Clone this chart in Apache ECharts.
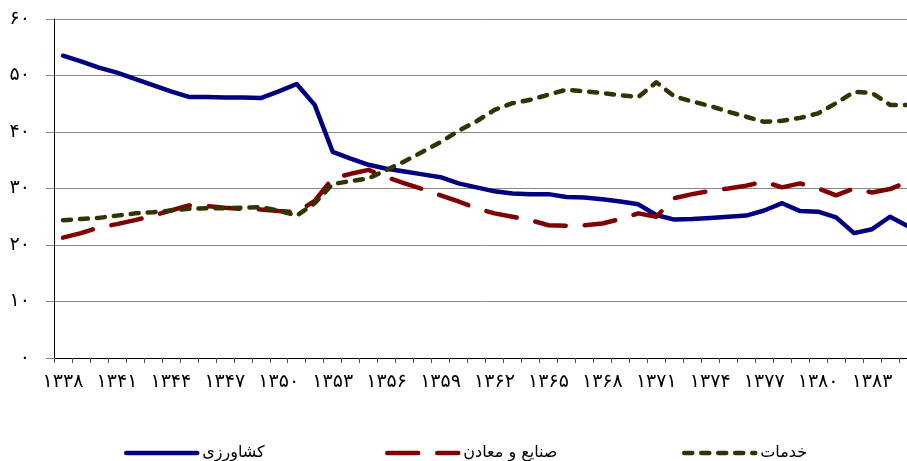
<!DOCTYPE html>
<html>
<head>
<meta charset="utf-8">
<script src="https://cdn.jsdelivr.net/npm/echarts@6/dist/echarts.min.js"></script>
<style>
html,body{margin:0;padding:0;overflow:hidden;background:#fff;width:907px;height:461px;}
#c{width:930px;height:461px;}
</style>
</head>
<body>
<div id="c"></div>
<script>
var years = [1338,1339,1340,1341,1342,1343,1344,1345,1346,1347,1348,1349,1350,1351,1352,1353,1354,1355,1356,1357,1358,1359,1360,1361,1362,1363,1364,1365,1366,1367,1368,1369,1370,1371,1372,1373,1374,1375,1376,1377,1378,1379,1380,1381,1382,1383,1384,1385];
var agriculture = [53.5,52.5,51.4,50.5,49.4,48.3,47.2,46.2,46.2,46.1,46.1,46.0,47.2,48.5,44.8,36.5,35.3,34.2,33.5,33.0,32.5,32.0,30.9,30.2,29.5,29.1,29.0,29.0,28.5,28.4,28.1,27.7,27.2,25.3,24.5,24.6,24.8,25.0,25.2,26.1,27.4,26.0,25.9,24.9,22.1,22.8,25.0,23.3];
var industry = [21.3,22.1,23.1,23.7,24.4,25.2,26.1,27.0,26.9,26.6,26.4,26.3,26.0,25.8,27.8,31.8,32.6,33.3,32.0,30.9,29.9,28.8,27.7,26.5,25.6,25.0,24.4,23.5,23.4,23.5,23.8,24.6,25.6,25.0,28.3,29.0,29.6,30.0,30.5,31.2,30.2,30.9,30.0,28.8,30.0,29.3,29.9,31.2];
var services = [24.4,24.6,24.8,25.2,25.6,25.8,26.1,26.4,26.5,26.5,26.6,26.7,26.1,25.2,27.4,30.8,31.3,31.8,33.3,34.8,36.5,38.2,40.2,41.9,43.9,45.1,45.7,46.6,47.5,47.2,46.9,46.5,46.2,48.8,46.3,45.4,44.6,43.6,42.7,41.8,42.0,42.5,43.3,45.1,47.1,46.9,44.8,44.8];
var seriesNames = ['کشاورزی','صنایع و معادن','خدمات'];
var yTicks = [0,10,20,30,40,50,60];

var faDigits = '۰۱۲۳۴۵۶۷۸۹';
function fa(n){ return String(n).replace(/[0-9]/g, function(d){ return faDigits[+d]; }); }

var FONT = "'DejaVu Sans', sans-serif";
var chart = echarts.init(document.getElementById('c'), null, {renderer:'canvas'});
function legendAt(name, left){
  return {
    data:[name], left:left, top:440, itemWidth:71, itemHeight:14, padding:5,
    itemStyle:{opacity:0, borderWidth:0},
    lineStyle:{width:4.5},
    textStyle:{fontFamily:FONT, fontSize:16, color:'#000'}
  };
}
chart.setOption({
  animation:false,
  backgroundColor:'#fff',
  grid:{left:54, top:19, width:863, height:339, containLabel:false},
  legend:[legendAt(seriesNames[0],119), legendAt(seriesNames[1],380), legendAt(seriesNames[2],677)],
  xAxis:{
    type:'category', data:years, boundaryGap:true,
    axisLine:{lineStyle:{color:'#000', width:1}},
    axisTick:{show:true, interval:0, length:5, lineStyle:{color:'#555'}},
    axisLabel:{interval:2, margin:15, fontFamily:FONT, fontSize:19, color:'#000',
      formatter:function(v){ return fa(v); }},
    splitLine:{show:false}
  },
  yAxis:{
    type:'value', min:yTicks[0], max:yTicks[yTicks.length-1], interval:10,
    axisLine:{show:true, lineStyle:{color:'#000', width:1}},
    axisTick:{show:true, length:8, lineStyle:{color:'#888'}},
    axisLabel:{margin:24, fontFamily:FONT, fontSize:19, color:'#000',
      formatter:function(v){ return fa(v); }},
    splitLine:{show:true, lineStyle:{color:'#888', width:1}}
  },
  series:[
    {name:seriesNames[0], type:'line', data:agriculture, symbol:'none', smooth:false,
     lineStyle:{color:'#000080', width:4.5, cap:'round', join:'round'}, itemStyle:{color:'#000080'}},
    {name:seriesNames[1], type:'line', data:industry, symbol:'none', smooth:false,
     lineStyle:{color:'#800000', width:4.5, type:[31,19], cap:'round', join:'round'}, itemStyle:{color:'#800000'}},
    {name:seriesNames[2], type:'line', data:services, symbol:'none', smooth:false,
     lineStyle:{color:'#333300', width:4.5, type:[8,9], cap:'round', join:'round'}, itemStyle:{color:'#333300'}}
  ]
});
</script>
</body>
</html>
